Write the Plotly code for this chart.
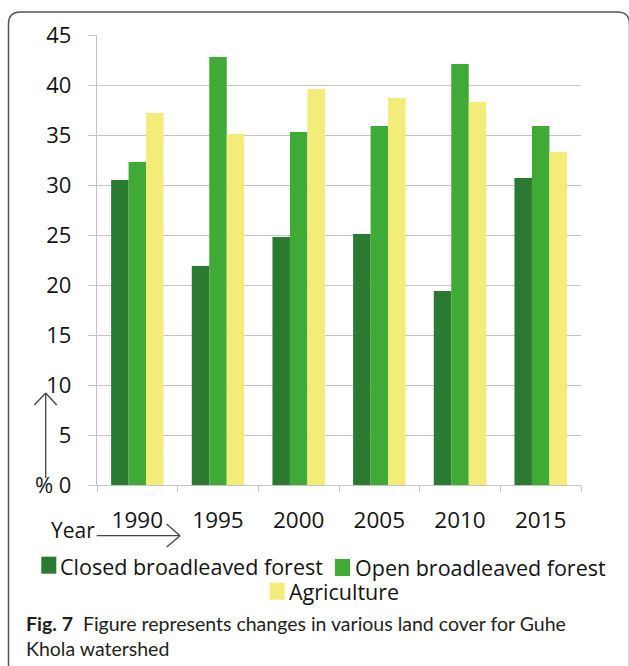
import plotly.graph_objects as go

# Land cover share (%) of Guhe Khola watershed by year
years = ["1990", "1995", "2000", "2005", "2010", "2015"]
closed_forest = [30.5, 21.9, 24.8, 25.1, 19.4, 30.7]
open_forest = [32.3, 42.8, 35.3, 35.9, 42.1, 35.9]
agriculture = [37.2, 35.1, 39.6, 38.7, 38.3, 33.3]

series_names = ["Closed broadleaved forest", "Open broadleaved forest", "Agriculture"]
series_colors = ["#2b7a32", "#3faa36", "#f4ec78"]
y_ticks = [0, 5, 10, 15, 20, 25, 30, 35, 40, 45]
y_ticktext = ["% 0"] + [str(v) for v in y_ticks[1:]]

W, H = 629, 666
ML, MR, MT, MB = 97, 48, 35, 181
PW, PH = W - ML - MR, H - MT - MB


def px(x):
    return (x - ML) / PW


def py(y):
    return (H - MB - y) / PH


fig = go.Figure()
for name, vals, col in zip(series_names, [closed_forest, open_forest, agriculture], series_colors):
    fig.add_trace(go.Bar(x=years, y=vals, name=name, marker=dict(color=col, line=dict(width=0)),
                         showlegend=False))

grid = "#c4c4c4"
ink = "#141414"
fig.update_layout(
    width=W, height=H,
    margin=dict(l=ML, r=MR, t=MT, b=MB, pad=0),
    paper_bgcolor="white", plot_bgcolor="white",
    barmode="group", bargap=0.35, bargroupgap=0,
    font=dict(family="Open Sans", size=21, color=ink),
    xaxis=dict(type="category", showgrid=False, showline=True, linecolor=grid, linewidth=1.3,
               ticks="outside", tickson="boundaries", ticklen=6, tickcolor=grid, tickwidth=1.3,
               ticklabelstandoff=15, tickfont=dict(size=22.5), fixedrange=True),
    yaxis=dict(range=[0, 45], tickvals=y_ticks, ticktext=y_ticktext, showgrid=True,
               gridcolor=grid, gridwidth=1.3, zeroline=False, showline=True, linecolor=grid,
               linewidth=1.3, ticks="outside", ticklen=8, tickcolor=grid, tickwidth=1.3,
               ticklabelstandoff=12, tickfont=dict(size=22), fixedrange=True),
)

shapes = []
annotations = []

# Rounded outer frame
r = 12
fx0, fy0, fx1 = 8.5, 12, 629.5
frame_path = (
    f"M {px(fx0)},{py(H + 5)} L {px(fx0)},{py(fy0 + r)} "
    f"Q {px(fx0)},{py(fy0)} {px(fx0 + r)},{py(fy0)} "
    f"L {px(fx1 - r)},{py(fy0)} Q {px(fx1)},{py(fy0)} {px(fx1)},{py(fy0 + r)} "
    f"L {px(fx1)},{py(H + 5)}"
)
shapes.append(dict(type="path", xref="paper", yref="paper", path=frame_path,
                   line=dict(color="#555555", width=1.5)))

# Axis direction arrows
arrow = dict(color="#444444", width=1.3)
for (x0, y0, x1, y1) in [
    (45.7, 478, 45.7, 393), (34.3, 405, 45.7, 393), (56.7, 405, 45.7, 393),
    (96.7, 535.7, 180, 535.7), (166.7, 524, 180, 535.7), (166.7, 547, 180, 535.7),
]:
    shapes.append(dict(type="line", xref="paper", yref="paper",
                       x0=px(x0), y0=py(y0), x1=px(x1), y1=py(y1), line=arrow))

annotations.append(dict(text="Year", xref="paper", yref="paper", x=px(97), y=py(530),
                        xanchor="right", yanchor="middle", showarrow=False,
                        font=dict(size=21, color=ink)))

# Legend swatches and labels
legend_items = [
    (41.3, 556.7, 60, 566, 0),
    (335, 559, 355, 567, 1),
    (269.6, 582.7, 289, 591, 2),
]
for sx, sy, tx, ty, i in legend_items:
    shapes.append(dict(type="rect", xref="paper", yref="paper",
                       x0=px(sx), x1=px(sx + 15), y0=py(sy), y1=py(sy + 17),
                       fillcolor=series_colors[i], line=dict(width=0)))
    annotations.append(dict(text=series_names[i], xref="paper", yref="paper",
                            x=px(tx - 2), y=py(ty), xanchor="left", yanchor="middle",
                            showarrow=False, font=dict(size=21.5, color=ink)))

# Caption
cap_font = dict(family="Lato", size=19.5, color="#231f20")
annotations.append(dict(text="<b>Fig. 7</b>&nbsp;&nbsp;Figure represents changes in various land cover for Guhe",
                        xref="paper", yref="paper", x=px(24), y=py(623), xanchor="left",
                        yanchor="middle", showarrow=False, font=cap_font))
annotations.append(dict(text="Khola watershed", xref="paper", yref="paper", x=px(24), y=py(648),
                        xanchor="left", yanchor="middle", showarrow=False, font=cap_font))

fig.update_layout(shapes=shapes, annotations=annotations)
fig.write_html("out.html")
